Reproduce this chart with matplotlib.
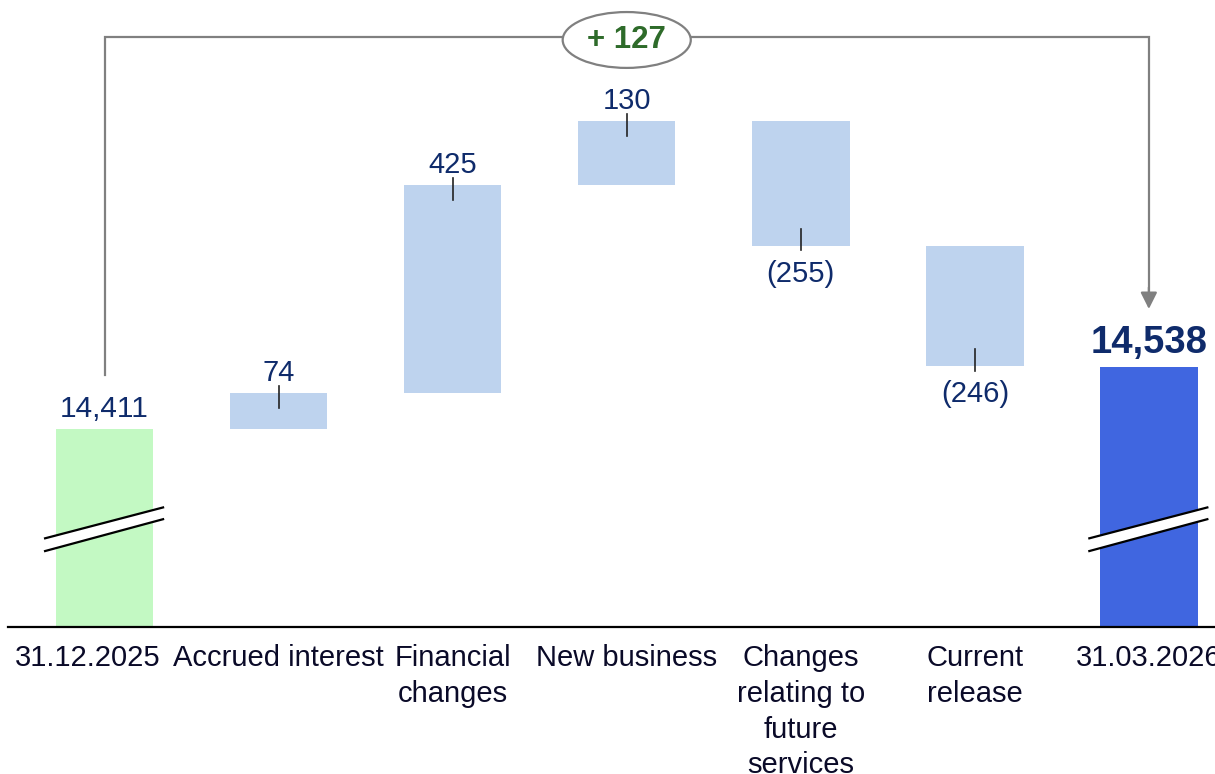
import matplotlib
matplotlib.use("Agg")
import numpy as np
from matplotlib import pyplot as plt
from matplotlib.patches import Ellipse, Polygon
from matplotlib.transforms import ScaledTranslation

plt.rcParams["font.family"] = ["Liberation Sans", "DejaVu Sans"]

# data
categories = ["31.12.2025", "Accrued interest", "Financial\nchanges", "New business",
              "Changes\nrelating to\nfuture\nservices", "Current\nrelease", "31.03.2026"]
start_value = 14411
steps = [74, 425, 130, -255, -246]
end_value = 14538
total_change = 127

axis_base = 14007  # value at the broken axis baseline

c_start = "#c3f9c3"
c_step = "#bed3ee"
c_end = "#4066e0"
c_label = "#0f2b6b"
c_gray = "#808080"

fig = plt.figure(figsize=(12.15, 7.74), dpi=100)
ax = fig.add_axes([8 / 1215, 147 / 774, 1207 / 1215, 627 / 774])

px = 0.49  # pixels per unit
ax.set_ylim(axis_base, axis_base + 627 / px)
ax.set_xlim(-0.555, 6.38)

x = np.arange(len(categories))
width = 0.56

# totals
ax.bar(0, start_value - axis_base, bottom=axis_base, width=width, color=c_start, zorder=2)
ax.bar(6, end_value - axis_base, bottom=axis_base, width=width, color=c_end, zorder=2)

# steps
level = start_value
for i, v in enumerate(steps, start=1):
    lo, hi = (level, level + v) if v > 0 else (level + v, level)
    ax.bar(i, hi - lo, bottom=lo, width=width, color=c_step, zorder=2)
    if v > 0:
        ax.plot([i, i], [hi + 14, hi - 31], color="#222222", lw=1.2, zorder=3)
        ax.annotate(f"{v}", (i, hi), xytext=(0, 4), textcoords="offset points",
                    ha="center", va="bottom", fontsize=21, color=c_label)
    else:
        ax.plot([i, i], [lo - 9, lo + 35], color="#222222", lw=1.2, zorder=3)
        ax.annotate(f"({-v})", (i, lo), xytext=(0, -10), textcoords="offset points",
                    ha="center", va="top", fontsize=21, color=c_label)
    level += v

ax.annotate(f"{start_value:,}", (0, start_value), xytext=(0, 4), textcoords="offset points",
            ha="center", va="bottom", fontsize=21.5, color=c_label)
ax.annotate(f"{end_value:,}", (6, end_value), xytext=(0, 4), textcoords="offset points",
            ha="center", va="bottom", fontsize=27.5, fontweight="bold", color=c_label)

# axis break marks
for xc in (0, 6):
    xl, xr = xc - 0.342, xc + 0.336
    lower = [14162, 14227]
    upper = [14188, 14251]
    ax.add_patch(Polygon([[xl, lower[0]], [xr, lower[1]], [xr, upper[1]], [xl, upper[0]]],
                         closed=True, facecolor="white", edgecolor="none", zorder=4))
    ax.plot([xl, xr], lower, color="black", lw=1.6, zorder=5)
    ax.plot([xl, xr], upper, color="black", lw=1.6, zorder=5)

# bracket with total change
y_top = 15211
ax.plot([0, 0, 6, 6], [14521, y_top, y_top, 14688], color=c_gray, lw=1.6, zorder=1,
        solid_joinstyle="miter")
ax.annotate("", xy=(6, 14656), xytext=(6, 14700),
            arrowprops=dict(arrowstyle="-|>,head_length=1.0,head_width=0.5",
                            color=c_gray, lw=1.6, shrinkA=0, shrinkB=0))
ax.add_patch(Ellipse((3, y_top - 6), 0.736, 114, facecolor="white", edgecolor=c_gray,
                     lw=1.6, zorder=3))
ax.text(3, y_top - 6, f"+ {total_change}", ha="center", va="center", fontsize=22.5,
        fontweight="bold", color="#2e6b2a", zorder=4)

# axes styling
for s in ["top", "left", "right"]:
    ax.spines[s].set_visible(False)
ax.spines["bottom"].set_linewidth(1.6)
ax.set_yticks([])
ax.set_xticks(x)
ax.set_xticklabels(categories, fontsize=21, color="#0a0a28", linespacing=1.35)
ax.tick_params(axis="x", length=0, pad=12.5)
first = ax.get_xticklabels()[0]
first.set_transform(first.get_transform() + ScaledTranslation(-0.17, 0, fig.dpi_scale_trans))

fig.savefig("out.png", dpi=100)
